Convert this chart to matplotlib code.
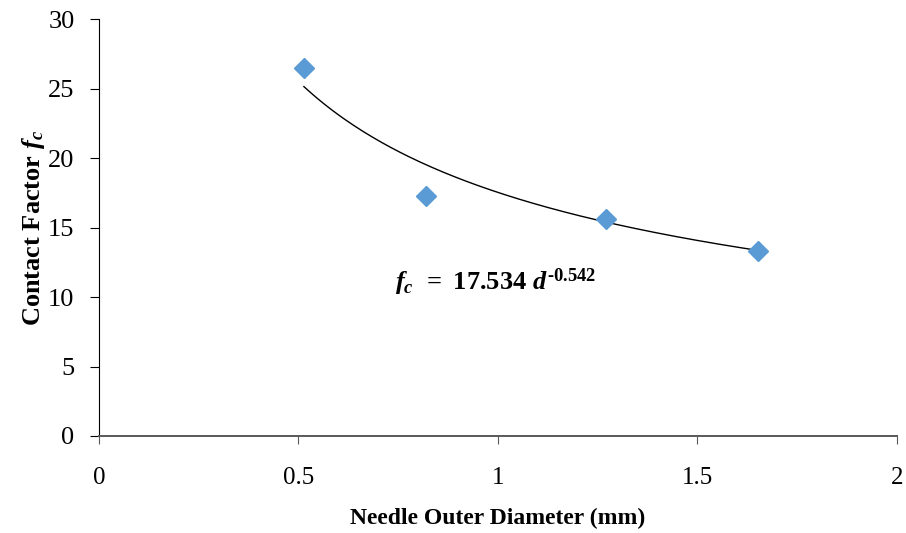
import numpy as np
import matplotlib
matplotlib.use('Agg')
import matplotlib.pyplot as plt

plt.rcParams['font.family'] = 'Liberation Serif'
plt.rcParams['mathtext.fontset'] = 'custom'
plt.rcParams['mathtext.rm'] = 'Liberation Serif:bold'
plt.rcParams['mathtext.bf'] = 'Liberation Serif:bold'
plt.rcParams['mathtext.it'] = 'Liberation Serif:italic:bold'

# measured points
diam = [0.514, 0.82, 1.27, 1.652]
fc = [26.5, 17.3, 15.6, 13.3]

# power-law trendline shown on chart
coef = 17.534
expo = -0.542

fig = plt.figure(figsize=(9.06, 5.33), dpi=100)
ax = fig.add_axes([0.109, 0.182, 0.881, 0.782])

d = np.linspace(min(diam), max(diam), 200)
ax.plot(d, coef * d**expo, color='black', lw=1.0)
ax.plot(diam, fc, 'D', color='#5B9BD5', ms=9.7, mec='#5B9BD5')

ax.set_xlim(0, 2)
ax.set_ylim(0, 30)
ax.set_xticks([0, 0.5, 1, 1.5, 2])
ax.set_xticklabels(['0', '0.5', '1', '1.5', '2'])
ax.set_yticks(range(0, 31, 5))
ax.tick_params(axis='y', labelsize=19, direction='out', length=6.5, width=0.8, pad=11)
ax.tick_params(axis='x', labelsize=18, direction='out', length=6, width=0.8,
               pad=16, colors='#595959', labelcolor='black')

ax.spines['top'].set_visible(False)
ax.spines['right'].set_visible(False)
ax.spines['left'].set_linewidth(0.8)
ax.spines['bottom'].set_color('#595959')
ax.spines['bottom'].set_linewidth(1.4)

ax.set_xlabel('Needle Outer Diameter (mm)', fontsize=17, fontweight='bold', labelpad=14)
ax.set_ylabel(r'Contact Factor $f_c$', fontsize=19, fontweight='bold', labelpad=1)

ax.text(0.742, 10.5, '$f_c\\ \\,=\\ 17.534\\ d^{\\mathrm{\u20100.542}}$', fontsize=19)

fig.savefig('out.png', dpi=100)
